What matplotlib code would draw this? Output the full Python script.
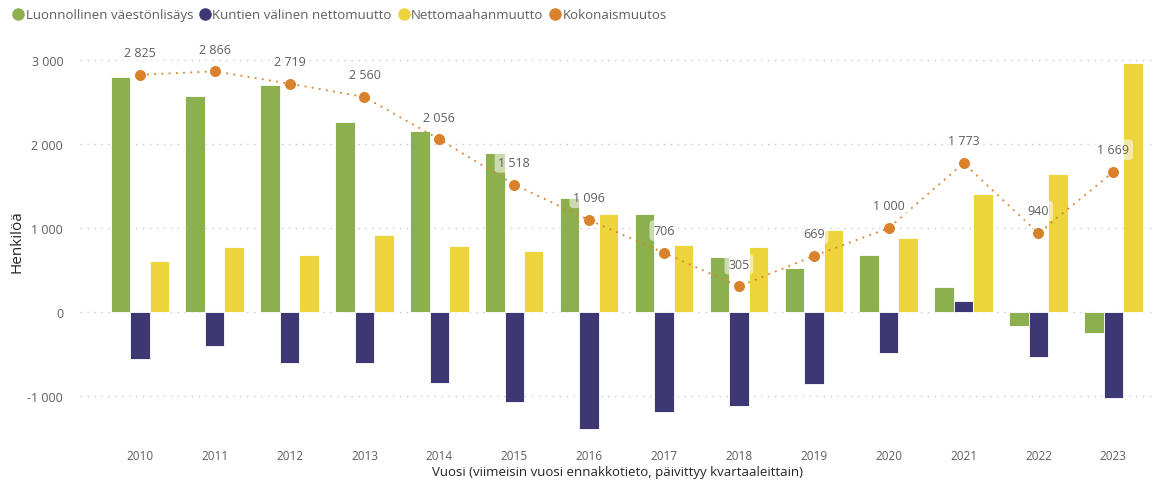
import matplotlib
matplotlib.use("Agg")
import matplotlib.pyplot as plt
from matplotlib.lines import Line2D
import numpy as np

years = [2010, 2011, 2012, 2013, 2014, 2015, 2016, 2017, 2018, 2019, 2020, 2021, 2022, 2023]
luonnollinen = [2800, 2570, 2700, 2260, 2155, 1895, 1360, 1165, 655, 525, 680, 300, -165, -250]
kuntien_valinen = [-560, -405, -605, -605, -845, -1070, -1395, -1190, -1120, -855, -490, 130, -535, -1025]
nettomaahan = [605, 775, 680, 915, 785, 725, 1165, 800, 775, 975, 880, 1405, 1645, 2965]
kokonais = [2825, 2866, 2719, 2560, 2056, 1518, 1096, 706, 305, 669, 1000, 1773, 940, 1669]

series_names = ["Luonnollinen väestönlisäys", "Kuntien välinen nettomuutto",
                "Nettomaahanmuutto", "Kokonaismuutos"]
colors = ["#8db04f", "#3d3873", "#edd33c", "#d9822b"]
text_gray = "#605e5c"

plt.rcParams["font.family"] = ["Open Sans", "DejaVu Sans"]


def fmt(v):
    s = f"{abs(int(v)):,}".replace(",", " ")
    return ("-" + s) if v < 0 else s


fig = plt.figure(figsize=(11.58, 4.81), dpi=100)
ax = fig.add_axes([0.069, 0.087, 0.928, 0.821])

x = np.arange(len(years))
w = 0.26
for offs, vals, c in zip([-w, 0, w], [luonnollinen, kuntien_valinen, nettomaahan], colors[:3]):
    ax.bar(x + offs, vals, width=w, color=c, edgecolor="white", linewidth=0.6, zorder=2)

ax.plot(x, kokonais, linestyle=(0, (1, 3)), color=colors[3], linewidth=1.3, zorder=3)
ax.scatter(x, kokonais, s=48, color=colors[3], zorder=4)
for xi, v in zip(x, kokonais):
    ax.annotate(fmt(v), (xi, v), xytext=(0, 16), textcoords="offset points",
                ha="center", va="center", fontsize=9, color=text_gray, zorder=5,
                bbox=dict(boxstyle="round,pad=0.3", fc="white", ec="none", alpha=0.55))

ax.set_xlim(-0.8, 13.55)
ax.set_ylim(-1500, 3200)
ax.set_yticks([-1000, 0, 1000, 2000, 3000])
ax.set_yticklabels([fmt(t) for t in [-1000, 0, 1000, 2000, 3000]])
ax.set_xticks(x)
ax.set_xticklabels([str(y) for y in years])
ax.tick_params(axis="both", length=0, labelsize=8.5, labelcolor=text_gray)
ax.tick_params(axis="y", pad=12, labelsize=9)
ax.tick_params(axis="x", pad=8)
ax.grid(axis="y", linestyle=(0, (1, 4)), color="#c8c8c8", linewidth=1, zorder=0)
ax.set_axisbelow(True)
for sp in ax.spines.values():
    sp.set_visible(False)

ax.set_ylabel("Henkilöä", fontsize=11, color="#252423")
ax.yaxis.set_label_coords(-0.052, 0.5)
ax.set_xlabel("Vuosi (viimeisin vuosi ennakkotieto, päivittyy kvartaaleittain)",
              fontsize=9.5, color="#252423", labelpad=2)

handles = [Line2D([], [], marker="o", linestyle="none", markersize=8, color=c) for c in colors]
fig.legend(handles, series_names, loc="upper left", bbox_to_anchor=(0.0, 1.005), ncol=4,
           frameon=False, fontsize=9.5, handletextpad=0.05, columnspacing=0.4,
           handlelength=1.0, labelcolor=text_gray)

fig.savefig("out.png", dpi=100, facecolor="white")
